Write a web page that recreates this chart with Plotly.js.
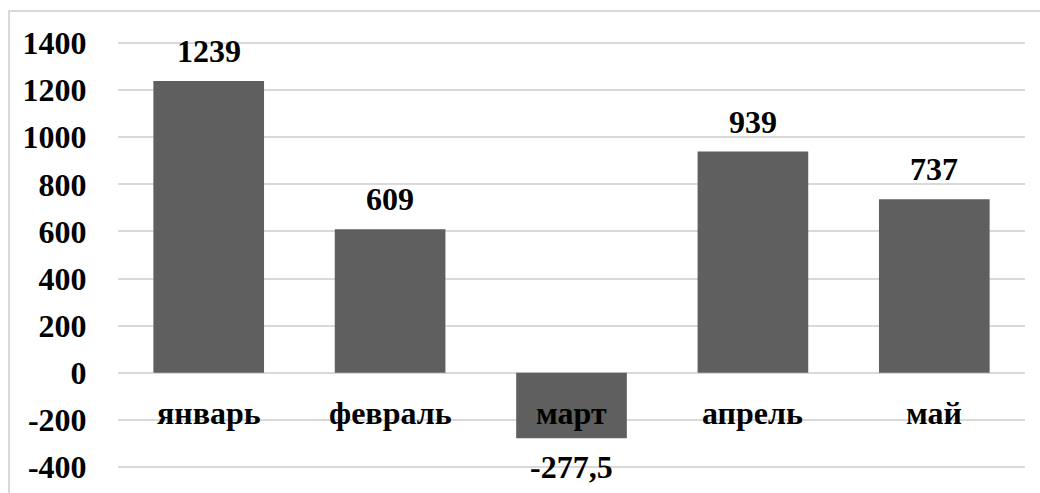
<!DOCTYPE html>
<html>
<head>
<meta charset="utf-8">
<script src="https://cdn.plot.ly/plotly-3.0.1.min.js"></script>
<style>
  html, body { margin: 0; padding: 0; background: #ffffff; }
  #chart { width: 1040px; height: 493px; }
</style>
</head>
<body>
<div id="chart"></div>
<script>
// Monthly values
const months = ['январь', 'февраль', 'март', 'апрель', 'май'];
const values = [1239, 609, -277.5, 939, 737];
const tickVals = [-400, -200, 0, 200, 400, 600, 800, 1000, 1200, 1400];

const serif = 'Liberation Serif, Times New Roman, serif';
const barColor = '#5f5f5f';
const gridColor = '#d9d9d9';

const fmt = v => String(v).replace('.', ',');

const bars = {
  type: 'bar',
  x: months,
  y: values,
  marker: { color: barColor },
  hoverinfo: 'x+y'
};

// Value labels above positive bars and below negative ones
const valueNotes = months.map((m, i) => ({
  x: m, y: values[i], xref: 'x', yref: 'y',
  text: '<b>' + fmt(values[i]) + '</b>',
  showarrow: false,
  yanchor: values[i] >= 0 ? 'bottom' : 'top',
  yshift: values[i] >= 0 ? 10 : -9,
  font: { family: serif, size: 32, color: '#000000' }
}));

// Category names drawn just below the zero line
const catNotes = months.map(m => ({
  x: m, y: 0, xref: 'x', yref: 'y',
  text: '<b>' + m + '</b>',
  showarrow: false,
  yanchor: 'middle',
  yshift: -40,
  font: { family: serif, size: 32, color: '#000000' }
}));

const layout = {
  width: 1040,
  height: 493,
  margin: { l: 118, r: 15, t: 30, b: 13 },
  paper_bgcolor: '#ffffff',
  plot_bgcolor: '#ffffff',
  showlegend: false,
  bargap: 0.39,
  xaxis: {
    type: 'category',
    showticklabels: false,
    showgrid: false,
    zeroline: false,
    showline: false,
    ticks: ''
  },
  yaxis: {
    range: [-455, 1455],
    tickvals: tickVals,
    ticktext: tickVals.map(v => '<b>' + v + '</b>'),
    showgrid: true,
    gridcolor: gridColor,
    gridwidth: 2,
    zeroline: true,
    zerolinecolor: gridColor,
    zerolinewidth: 2,
    showline: false,
    ticks: 'outside',
    ticklen: 24,
    tickcolor: 'rgba(0,0,0,0)',
    tickfont: { family: serif, size: 32, color: '#000000' }
  },
  annotations: valueNotes.concat(catNotes),
  shapes: [{
    type: 'rect', xref: 'paper', yref: 'paper',
    x0: -109 / 907, x1: 1.05,
    y0: -0.2, y1: 1 + 19 / 450,
    line: { color: gridColor, width: 2 },
    fillcolor: 'rgba(0,0,0,0)',
    layer: 'below'
  }]
};

Plotly.newPlot('chart', [bars], layout, { displayModeBar: false, staticPlot: true });
</script>
</body>
</html>
